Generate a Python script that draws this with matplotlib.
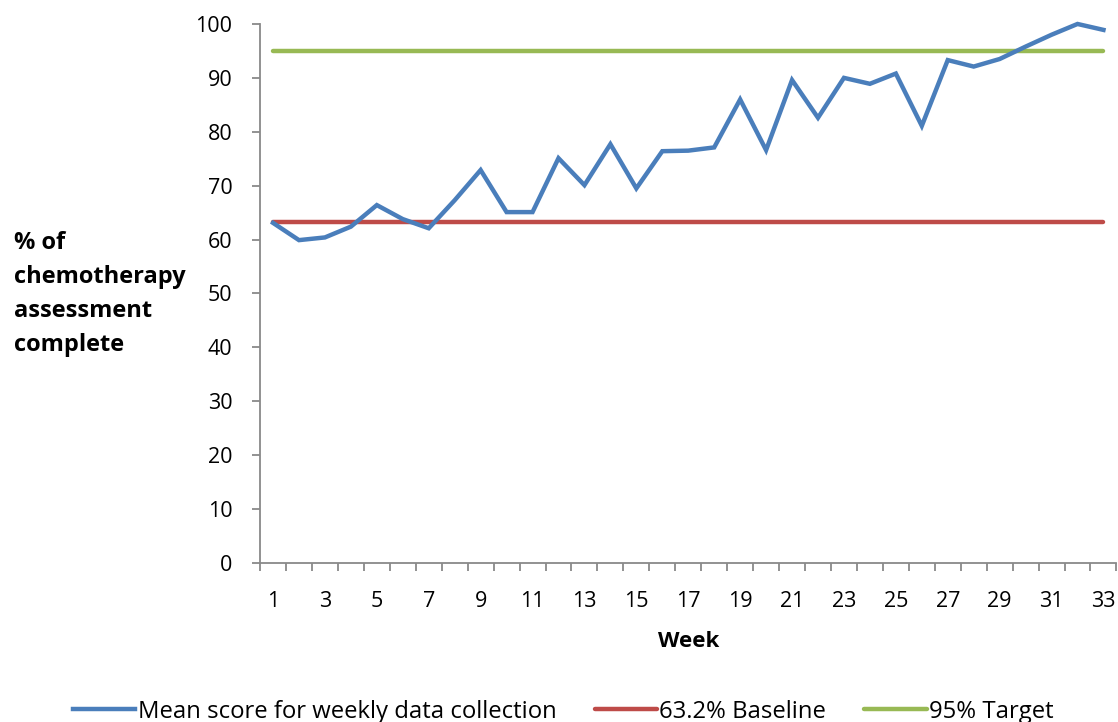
import matplotlib
matplotlib.use("Agg")
import matplotlib.pyplot as plt
import numpy as np

# Data
weeks = list(range(1, 34))
mean_score = [63.1, 59.9, 60.4, 62.4, 66.4, 63.8, 62.1, 67.3, 72.9, 65.1,
              65.1, 75.1, 70.1, 77.7, 69.5, 76.4, 76.5, 77.1, 86.0, 76.6,
              89.6, 82.6, 90.0, 88.9, 90.8, 81.1, 93.3, 92.1, 93.5, 95.8,
              98.0, 100.0, 98.9]
baseline = 63.2
target = 95.0
y_ticks = list(range(0, 101, 10))

plt.rcParams['font.family'] = ['Open Sans', 'DejaVu Sans']

fig = plt.figure(figsize=(11.18, 7.22), dpi=100)
ax = fig.add_axes([0.2326, 0.2202, 0.766, 0.7466])

ax.plot(weeks, mean_score, color='#4A7EBB', linewidth=3.2,
        label='Mean score for weekly data collection', solid_joinstyle='miter',
        clip_on=False, zorder=3)
ax.plot([weeks[0], weeks[-1]], [baseline, baseline], color='#BE4B48',
        linewidth=3.2, label='63.2% Baseline', solid_capstyle='round')
ax.plot([weeks[0], weeks[-1]], [target, target], color='#98B954',
        linewidth=3.2, label='95% Target', solid_capstyle='round')

ax.set_xlim(0.5, 33.5)
ax.set_ylim(0, 100)
ax.set_yticks(y_ticks)
ax.set_xticks(weeks[::2])
ax.set_xticks(np.arange(0.5, 34, 1), minor=True)

for s in ['top', 'right']:
    ax.spines[s].set_visible(False)
for s in ['left', 'bottom']:
    ax.spines[s].set_color('#898989')
    ax.spines[s].set_linewidth(1.3)

ax.tick_params(axis='y', which='major', direction='out', length=6,
               color='#898989', width=1.3, labelsize=15.5, pad=14)
ax.tick_params(axis='x', which='major', length=0, labelsize=15.5, pad=20)
ax.tick_params(axis='x', which='minor', direction='out', length=6,
               color='#898989', width=1.3)

ax.set_xlabel('Week', fontsize=16, fontweight='bold', labelpad=14)
fig.text(0.0125, 0.68, '% of\nchemotherapy\nassessment\ncomplete',
         fontsize=17, fontweight='bold', ha='left', va='top', linespacing=1.55)

fig.legend(loc='lower center', bbox_to_anchor=(0.504, -0.032), ncol=3,
           frameon=False, fontsize=17.2, handlelength=2.6, columnspacing=1.6,
           handletextpad=0.1)

fig.savefig('out.png', dpi=100)
